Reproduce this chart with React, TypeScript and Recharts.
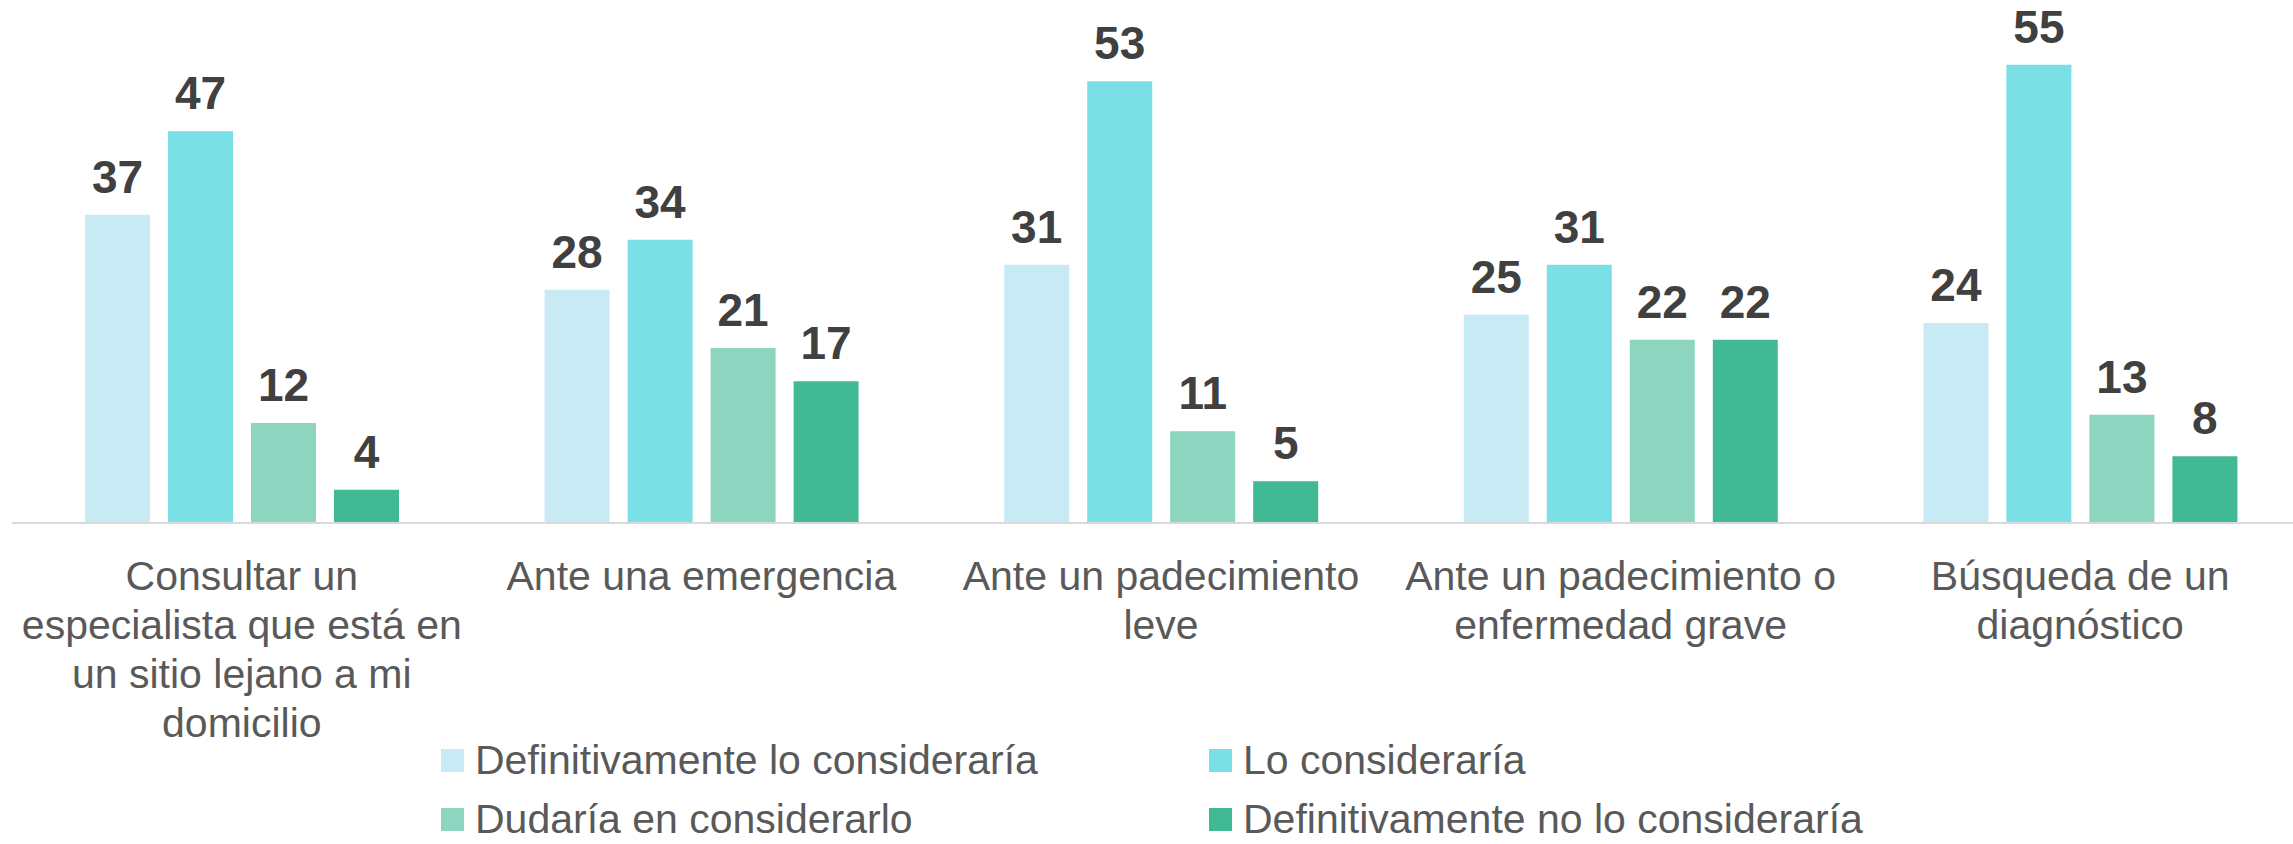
import { BarChart, Bar, XAxis, YAxis, LabelList, Legend } from "recharts";

const categories = [
  "Consultar un especialista que está en un sitio lejano a mi domicilio",
  "Ante una emergencia",
  "Ante un padecimiento leve",
  "Ante un padecimiento o enfermedad grave",
  "Búsqueda de un diagnóstico",
];

// tick labels, broken into lines as in the source
const tickLines = [
  ["Consultar un", "especialista que está en", "un sitio lejano a mi", "domicilio"],
  ["Ante una emergencia"],
  ["Ante un padecimiento", "leve"],
  ["Ante un padecimiento o", "enfermedad grave"],
  ["Búsqueda de un", "diagnóstico"],
];

const seriesNames = [
  "Definitivamente lo consideraría",
  "Lo consideraría",
  "Dudaría en considerarlo",
  "Definitivamente no lo consideraría",
];

const definitivamenteSi = [37, 28, 31, 25, 24];
const loConsideraria = [47, 34, 53, 31, 55];
const dudaria = [12, 21, 11, 22, 13];
const definitivamenteNo = [4, 17, 5, 22, 8];

const COLORS = ["#c7eaf5", "#7be0e5", "#8dd5be", "#42b995"];
const FONT = '"Liberation Sans", Arial, sans-serif';

const seriesValues = [definitivamenteSi, loConsideraria, dudaria, definitivamenteNo];

const data = categories.map((name, i) => {
  const row: Record<string, string | number> = { name };
  seriesNames.forEach((s, k) => {
    row[s] = seriesValues[k][i];
  });
  return row;
});

function CategoryTick({ x, y, payload, index }: any) {
  const lines = tickLines[index] ?? [payload.value];
  return (
    <text x={x} y={y} textAnchor="middle" fill="#595959" fontSize={41} fontFamily={FONT}>
      {lines.map((l, i) => (
        <tspan key={i} x={x} dy={i === 0 ? 67 : 49}>
          {l}
        </tspan>
      ))}
    </text>
  );
}

const renderLegend = () => (
  <div
    style={{
      display: "grid",
      gridTemplateColumns: "768px 768px",
      rowGap: 12,
      fontFamily: FONT,
    }}
  >
    {seriesNames.map((name, i) => (
      <div key={name} style={{ display: "flex", alignItems: "center", height: 47 }}>
        <span style={{ width: 23, height: 23, background: COLORS[i], marginRight: 11, flex: "none" }} />
        <span style={{ fontSize: 41, lineHeight: "47px", color: "#595959", whiteSpace: "nowrap" }}>{name}</span>
      </div>
    ))}
  </div>
);

export default function App() {
  return (
    <div
      style={{
        position: "absolute",
        left: 0,
        top: 0,
        width: 2293,
        height: 844,
        overflow: "hidden",
        background: "#fff",
      }}
    >
      <BarChart
        width={2320}
        height={844}
        data={data}
        margin={{ top: 23, right: 10, left: 12, bottom: 0 }}
        barSize={65}
        barGap={18}
      >
        <XAxis
          dataKey="name"
          height={321}
          interval={0}
          tickLine={false}
          tickSize={0}
          tickMargin={0}
          axisLine={{ stroke: "#d9d9d9", strokeWidth: 2 }}
          tick={<CategoryTick />}
        />
        <YAxis hide domain={[0, 60]} />
        <Legend
          layout="horizontal"
          verticalAlign="middle"
          align="center"
          content={renderLegend}
          wrapperStyle={{ left: 441, top: 737, width: 1600, height: 106 }}
        />
        {seriesNames.map((s, i) => (
          <Bar key={s} dataKey={s} fill={COLORS[i]} isAnimationActive={false}>
            <LabelList
              dataKey={s}
              position="top"
              offset={22}
              fill="#404040"
              fontSize={46}
              fontWeight="bold"
              fontFamily={FONT}
            />
          </Bar>
        ))}
      </BarChart>
    </div>
  );
}
